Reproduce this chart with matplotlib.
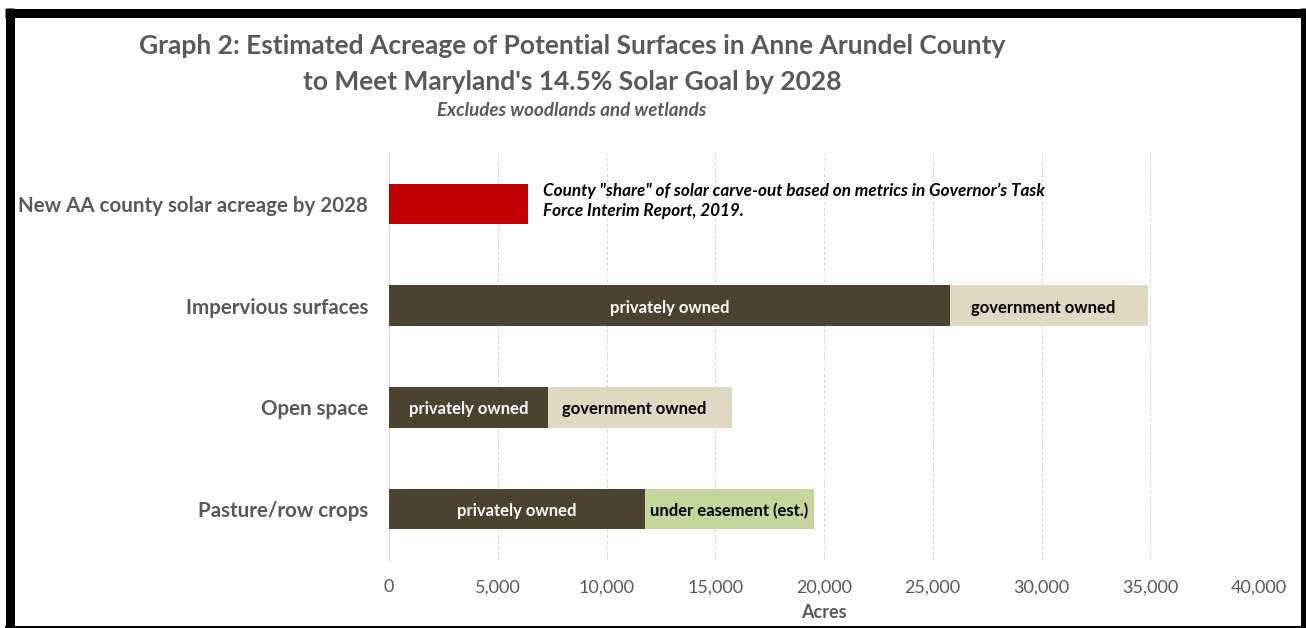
import matplotlib.pyplot as plt
from matplotlib.lines import Line2D
from matplotlib.ticker import FuncFormatter

# data (acres)
categories = ["New AA county solar acreage by 2028", "Impervious surfaces", "Open space", "Pasture/row crops"]
privately_owned = [0, 25800, 7300, 11750]
second_part = [0, 9100, 8450, 7800]
second_labels = ["", "government owned", "government owned", "under easement (est.)"]
solar_goal = [6400, 0, 0, 0]
x_ticks = [0, 5000, 10000, 15000, 20000, 25000, 30000, 35000, 40000]

plt.rcParams['font.family'] = ['Lato', 'DejaVu Sans']

grey = '#595959'
dark = '#4A432F'
beige = '#DDD9C3'
green = '#C3D69B'
red = '#C00000'

W, H = 1306, 628
fig = plt.figure(figsize=(W / 100, H / 100), dpi=100)
ax = fig.add_axes([389 / W, 1 - 560 / H, 870 / W, 407 / H])

y_pos = list(range(len(categories)))
second_colors = [beige, beige, beige, green]
label_shift = [0, -250, -250, 0]  # government labels sit a bit left of centre

# bars
ax.barh(y_pos, solar_goal, height=0.4, color=red, zorder=3)
ax.barh(y_pos, privately_owned, height=0.4, color=dark, zorder=3)
ax.barh(y_pos, second_part, left=privately_owned, height=0.4, color=second_colors, zorder=3)

# labels inside the bars
for i in y_pos:
    if privately_owned[i] > 0:
        ax.text(privately_owned[i] / 2, i + 0.02, "privately owned", color='white', fontsize=12,
                fontweight='bold', ha='center', va='center', zorder=4)
    if second_part[i] > 0:
        ax.text(privately_owned[i] + second_part[i] / 2 + label_shift[i], i + 0.02, second_labels[i],
                color='black', fontsize=12, fontweight='bold', ha='center', va='center', zorder=4)

# note next to red bar
ax.text(solar_goal[0] + 700, -0.03, "County \"share\" of solar carve-out based on metrics in Governor\u2019s Task\n"
        "Force Interim Report, 2019.", fontsize=12.3, fontstyle='italic', fontweight='bold',
        ha='left', va='center', color='black', linespacing=1.35, zorder=4)

ax.set_xlim(0, 40000)
ax.set_ylim(3.5, -0.5)
ax.set_xticks(x_ticks)
ax.xaxis.set_major_formatter(FuncFormatter(lambda v, p: f"{int(v):,}"))
ax.set_yticks(y_pos)
ax.set_yticklabels(categories, fontsize=14.8, fontweight='bold', color=grey)
ax.tick_params(axis='x', colors=grey, labelsize=13, length=0, pad=14)
ax.tick_params(axis='y', length=0, pad=15)
ax.set_xlabel("Acres", fontsize=13, fontweight='bold', color=grey, labelpad=6)

ax.grid(axis='x', color='#D9D9D9', linestyle=(0, (3, 2)), linewidth=0.8, zorder=0)
for s in ['top', 'right', 'bottom']:
    ax.spines[s].set_visible(False)
ax.spines['left'].set_color('#D9D9D9')
ax.spines['left'].set_zorder(1)

# titles
fig.text(572 / W, 1 - 46 / H, "Graph 2: Estimated Acreage of Potential Surfaces in Anne Arundel County",
         fontsize=19, fontweight='bold', color=grey, ha='center', va='center')
fig.text(572 / W, 1 - 82 / H, "to Meet Maryland's 14.5% Solar Goal by 2028",
         fontsize=19, fontweight='bold', color=grey, ha='center', va='center')
fig.text(572 / W, 1 - 111 / H, "Excludes woodlands and wetlands",
         fontsize=13.5, fontweight='bold', fontstyle='italic', color=grey, ha='center', va='center')

# black frame round the chart (thick left/top, thinner right, thin bottom)
def frame_line(x0, y0, x1, y1, lw):
    fig.add_artist(Line2D([x0 / W, x1 / W], [1 - y0 / H, 1 - y1 / H], transform=fig.transFigure,
                          color='black', linewidth=lw * 0.72, solid_capstyle='butt'))

frame_line(5, 12.5, 1305, 12.5, 9)
frame_line(9.5, 8, 9.5, 628, 9)
frame_line(1302.5, 8, 1302.5, 628, 5)
frame_line(5, 626.5, 1305, 626.5, 2)

fig.savefig("out.png", dpi=100)
